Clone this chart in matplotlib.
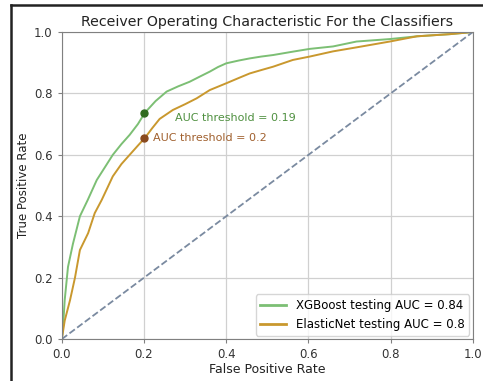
import numpy as np, matplotlib.pyplot as plt
from matplotlib.lines import Line2D

# ROC points
xgb_fpr = [0.0, 0.003, 0.007, 0.015, 0.027, 0.044, 0.063, 0.085, 0.105, 0.124, 0.145, 0.165,
           0.185, 0.202, 0.228, 0.255, 0.283, 0.311, 0.336, 0.36, 0.38, 0.40, 0.43, 0.457,
           0.485, 0.514, 0.562, 0.603, 0.66, 0.717, 0.798, 0.864, 0.944, 1.0]
xgb_tpr = [0.0, 0.04, 0.127, 0.235, 0.31, 0.40, 0.453, 0.518, 0.56, 0.60, 0.635, 0.665,
           0.70, 0.737, 0.775, 0.806, 0.823, 0.838, 0.855, 0.871, 0.886, 0.898, 0.907, 0.914,
           0.92, 0.925, 0.936, 0.945, 0.953, 0.969, 0.977, 0.986, 0.993, 1.0]
enet_fpr = [0.0, 0.007, 0.02, 0.032, 0.044, 0.064, 0.08, 0.097, 0.11, 0.124, 0.145, 0.165,
            0.185, 0.202, 0.22, 0.238, 0.27, 0.3, 0.328, 0.36, 0.40, 0.43, 0.457, 0.485,
            0.514, 0.562, 0.603, 0.66, 0.717, 0.798, 0.864, 0.944, 1.0]
enet_tpr = [0.0, 0.06, 0.127, 0.20, 0.29, 0.345, 0.41, 0.453, 0.49, 0.53, 0.57, 0.60,
            0.63, 0.655, 0.687, 0.717, 0.746, 0.765, 0.784, 0.811, 0.833, 0.85, 0.865, 0.876,
            0.887, 0.909, 0.92, 0.937, 0.95, 0.969, 0.986, 0.993, 1.0]

xgb_label = 'XGBoost testing AUC = 0.84'
enet_label = 'ElasticNet testing AUC = 0.8'
thr_pts = [(0.2, 0.736), (0.2, 0.655)]
thr_text = ['AUC threshold = 0.19', 'AUC threshold = 0.2']

fig = plt.figure(figsize=(4.83, 3.81), dpi=100)
ax = fig.add_axes([0.128, 0.110, 0.851, 0.806])

ax.plot(xgb_fpr, xgb_tpr, color='#7cbf74', lw=1.4, label=xgb_label)
ax.plot(enet_fpr, enet_tpr, color='#c9982e', lw=1.4, label=enet_label)
ax.plot([0, 1], [0, 1], '--', color='#7a8aa0', lw=1.3)

ax.plot(*thr_pts[0], 'o', color='#2f6b1f', ms=5)
ax.plot(*thr_pts[1], 'o', color='#8a4a1e', ms=5)
ax.text(0.275, 0.72, thr_text[0], color='#4f9040', fontsize=8, va='center')
ax.text(0.221, 0.655, thr_text[1], color='#a0602e', fontsize=8, va='center')

ax.set_xlim(0, 1)
ax.set_ylim(0, 1)
ax.grid(True, color='#d0d0d0', lw=0.9)
ax.set_axisbelow(True)
for s in ax.spines.values():
    s.set_color('#808080')
ax.tick_params(labelsize=8.5, colors='#333333', length=3, color='#808080')
ax.set_title('Receiver Operating Characteristic For the Classifiers', fontsize=10.2, color='#222222', pad=4)
ax.set_xlabel('False Positive Rate', fontsize=9, color='#222222', labelpad=1)
ax.set_ylabel('True Positive Rate', fontsize=8.5, color='#222222', labelpad=3)

leg = ax.legend(loc='lower right', fontsize=8.5, frameon=True, handlelength=2.2,
                borderaxespad=0.3)
for h in leg.get_lines():
    h.set_linewidth(2)

# frame around the screenshot
fig.add_artist(Line2D([0.023, 0.023], [0.0, 0.988], color='#222222', lw=1.8))
fig.add_artist(Line2D([0.023, 1.0], [0.988, 0.988], color='#222222', lw=1.8))

fig.savefig('out.png', dpi=100)
